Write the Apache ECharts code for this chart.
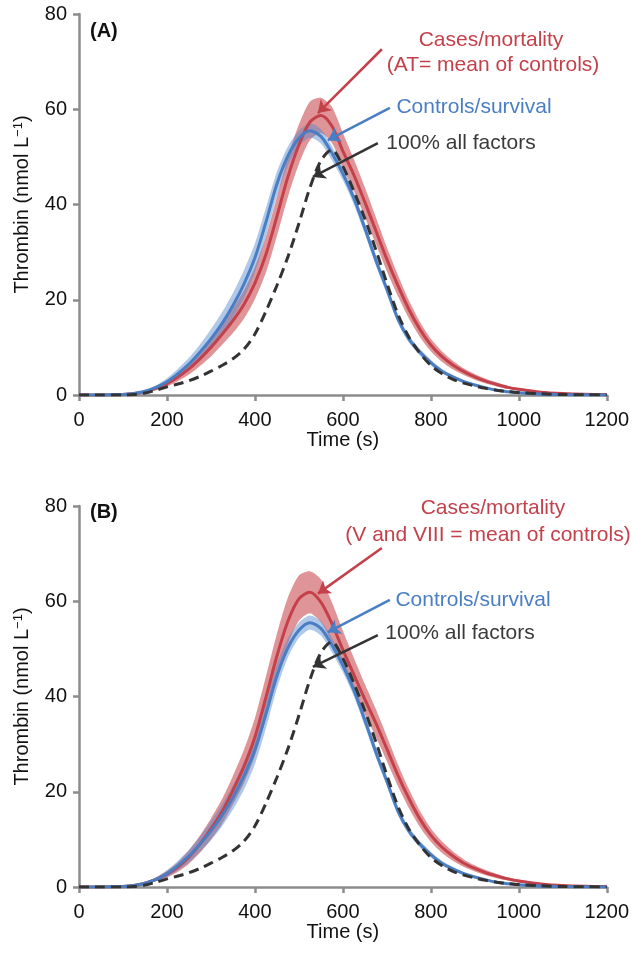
<!DOCTYPE html>
<html><head><meta charset="utf-8">
<script src="https://cdn.jsdelivr.net/npm/echarts@6/dist/echarts.min.js"></script>
<style>html,body{margin:0;padding:0;background:#fff}#c{width:632px;height:954px}</style>
</head><body><div id="c"></div>
<script>
// Time (s)
const time = [0,50,100,125,150,175,200,225,250,275,300,325,350,375,400,425,450,475,500,525,550,575,600,625,650,675,700,725,750,775,800,825,850,875,900,925,950,975,1000,1050,1100,1150,1200];
// Controls/survival (same in both panels)
const controlsMean = [0,0,0.1,0.3,0.8,1.6,2.8,4.5,6.5,9.0,11.8,15.0,18.8,23.3,28.8,36.3,44.3,50.2,53.9,55.5,54.3,50.8,46.5,41.3,35.0,28.3,22.2,16.0,11.8,9.0,6.8,5.0,3.8,2.8,2.1,1.5,1.0,0.7,0.45,0.2,0.08,0.03,0];
const controlsLow  = [0,0,0.1,0.2,0.6,1.2,2.1,3.5,5.2,7.4,9.8,12.7,16.2,20.4,25.8,33.3,41.7,48.2,52.3,54.0,52.8,49.3,45.1,40.0,33.8,27.2,21.2,15.1,11.0,8.3,6.2,4.5,3.4,2.45,1.8,1.25,0.8,0.55,0.35,0.15,0.08,0.03,0];
const controlsHigh = [0,0,0.1,0.4,1.0,2.0,3.5,5.5,7.8,10.6,13.8,17.3,21.4,26.2,31.8,39.3,46.9,52.2,55.5,57.0,55.8,52.3,47.9,42.6,36.2,29.4,23.2,16.9,12.6,9.7,7.4,5.5,4.2,3.15,2.4,1.75,1.2,0.85,0.55,0.25,0.08,0.03,0];
// 100% all factors
const allFactors = [0,0,0,0.1,0.4,1.0,1.7,2.3,3.0,3.9,5.0,6.2,7.6,9.6,12.8,17.6,23.0,29.0,36.0,43.5,49.2,51.5,48.0,42.8,37.0,30.5,23.5,17.0,12.2,8.8,6.2,4.5,3.3,2.5,1.9,1.4,1.0,0.7,0.5,0.25,0.1,0.05,0];
// Panel A: Cases/mortality (AT = mean of controls)
const casesAMean = [0,0,0.1,0.3,0.7,1.4,2.4,3.8,5.5,7.6,10.0,12.7,15.6,19.0,23.5,29.5,37.5,45.8,52.5,57.3,58.7,56.5,51.2,46.2,40.5,34.5,28.5,23.0,18.0,13.8,10.5,8.1,6.3,4.9,3.8,2.9,2.2,1.6,1.2,0.6,0.3,0.15,0.1];
const casesALow  = [0,0,0.1,0.2,0.5,1.0,1.8,2.9,4.3,6.1,8.1,10.5,13.0,16.0,20.1,25.7,33.4,41.6,48.5,53.5,55.0,52.9,47.7,42.9,37.4,31.7,26.0,20.8,16.1,12.2,9.2,7.0,5.4,4.2,3.2,2.4,1.8,1.3,0.95,0.45,0.2,0.1,0.05];
const casesAHigh = [0,0,0.1,0.4,0.9,1.8,3.0,4.7,6.7,9.1,11.9,14.9,18.2,22.0,26.9,33.3,41.6,50.0,56.8,61.6,62.4,60.5,55.0,49.5,43.6,37.3,31.0,25.2,19.9,15.4,11.8,9.2,7.2,5.6,4.4,3.4,2.6,1.9,1.45,0.75,0.4,0.2,0.15];
// Panel B: Cases/mortality (V and VIII = mean of controls)
const casesBMean = [0,0,0.1,0.3,0.8,1.6,2.7,4.2,6.3,9.0,12.2,15.8,20.3,25.3,31.5,39.8,48.5,55.8,60.5,61.9,59.8,55.3,49.8,44.6,39.4,34.4,29.0,23.5,18.6,14.3,10.9,8.4,6.5,5.0,3.9,3.0,2.3,1.7,1.25,0.65,0.3,0.15,0.1];
const casesBLow  = [0,0,0.1,0.2,0.6,1.2,2.0,3.2,4.9,7.2,10.0,13.2,17.3,21.8,27.5,35.4,43.8,51.0,55.9,57.5,55.6,51.3,46.0,41.1,36.2,31.5,26.4,21.2,16.6,12.6,9.5,7.2,5.5,4.2,3.25,2.45,1.85,1.35,0.95,0.45,0.2,0.1,0.05];
const casesBHigh = [0,0,0.1,0.4,1.0,2.0,3.4,5.2,7.7,10.8,14.4,18.4,23.3,28.8,35.5,44.2,53.2,60.8,65.4,66.3,64.6,59.8,53.8,48.1,42.6,37.3,31.6,25.8,20.6,16.0,12.3,9.6,7.5,5.8,4.55,3.55,2.75,2.05,1.55,0.85,0.4,0.2,0.15];
// Axis ticks
const xTicks = [0,200,400,600,800,1000,1200];
const yTicks = [0,20,40,60,80];

const RED = '#c4404a', RED_BAND = 'rgba(200,70,75,0.58)';
const BLUE = '#4a7ec4', BLUE_BAND = 'rgba(80,135,205,0.45)';
const DARK = '#333333';
const FONT = '"Liberation Sans", Arial, Helvetica, sans-serif';

function pairs(a){ return time.map((t,i)=>[t,a[i]]); }

function band(low, high, color, gi){
  return {type:'custom', xAxisIndex:gi, yAxisIndex:gi, silent:true, z:1, clip:true,
    data: time.map((t,i)=>[t, low[i], high[i]]),
    encode:{x:0, y:[1,2]},
    renderItem: function(params, api){
      if (params.dataIndex !== 0) return null;
      const pts = [];
      for (let i = 0; i < time.length; i++) pts.push(api.coord([time[i], high[i]]));
      for (let i = time.length - 1; i >= 0; i--) pts.push(api.coord([time[i], low[i]]));
      return {type:'polygon', shape:{points:pts, smooth:0.25}, style:{fill:color, stroke:null}};
    }
  };
}
function arrow(color, from, to){
  return {silent:true, symbol:['none','arrow'], symbolSize:12, animation:false,
    lineStyle:{color:color, width:2.5, type:'solid'}, label:{show:false}, emphasis:{disabled:true},
    data:[[{coord:from},{coord:to}]]};
}
function line(vals, color, gi, opts){
  return Object.assign({type:'line', xAxisIndex:gi, yAxisIndex:gi, data:pairs(vals), symbol:'none', smooth:0.3,
    lineStyle:{color:color, width:3}, silent:true, z:3}, opts||{});
}

const panels = [
  {top:14, casesMean:casesAMean, casesLow:casesALow, casesHigh:casesAHigh,
   redArrow:[[688.6,72.6],[543.2,59.2]], blueArrow:[[706.8,60.3],[565.9,53.5]], darkArrow:[[679.5,52.9],[531.8,45.8]]},
  {top:506, casesMean:casesBMean, casesLow:casesBLow, casesHigh:casesBHigh,
   redArrow:[[688.6,71.2],[543.2,61.6]], blueArrow:[[706.8,60.3],[565.9,53.5]], darkArrow:[[679.5,52.9],[531.8,46.2]]}
];

const grids = [], xAxes = [], yAxes = [], series = [];
panels.forEach((p, gi) => {
  grids.push({left:79, top:p.top, width:528, height:381, containLabel:false});
  xAxes.push({type:'value', gridIndex:gi, min:0, max:1200, interval:200,
    name:'Time (s)', nameLocation:'middle', nameGap:35,
    nameTextStyle:{fontSize:20, color:'#111', fontFamily:FONT},
    axisLine:{lineStyle:{color:'#8c8c8c', width:2.5}},
    axisTick:{show:true, length:6, lineStyle:{color:'#8c8c8c', width:2.5}},
    axisLabel:{fontSize:20, color:'#111', fontFamily:FONT, margin:15, formatter:v=>String(v)},
    splitLine:{show:false}});
  yAxes.push({type:'value', gridIndex:gi, min:0, max:80, interval:20,
    name:'{a|Thrombin (nmol L}{s|−1}{a|)}', nameLocation:'middle', nameGap:46,
    nameTextStyle:{fontSize:20, color:'#111', fontFamily:FONT,
      rich:{a:{fontSize:20, color:'#111', fontFamily:FONT}, s:{fontSize:13, color:'#111', fontFamily:FONT, verticalAlign:'top', padding:[0,0,8,0]}}},
    axisLine:{show:true, lineStyle:{color:'#8c8c8c', width:2.5}},
    axisTick:{show:true, length:6, lineStyle:{color:'#8c8c8c', width:2.5}},
    axisLabel:{fontSize:20, color:'#111', fontFamily:FONT, margin:12, formatter:v=>String(v)},
    splitLine:{show:false}});
  series.push(band(p.casesLow, p.casesHigh, RED_BAND, gi));
  series.push(band(controlsLow, controlsHigh, BLUE_BAND, gi));
  series.push(line(p.casesMean, RED, gi, {markLine:arrow(RED, p.redArrow[0], p.redArrow[1])}));
  series.push(line(controlsMean, BLUE, gi, {markLine:arrow(BLUE, p.blueArrow[0], p.blueArrow[1])}));
  series.push(line(allFactors, DARK, gi, {z:4, lineStyle:{color:DARK, width:3, type:[10,6]},
    markLine:arrow(DARK, p.darkArrow[0], p.darkArrow[1])}));
});

function txt(x, y, s, color){
  return {type:'text', x:x, y:y, silent:true, z:10,
    style:{text:s, fill:color, font:'21px ' + FONT, textAlign:'center', textVerticalAlign:'middle', align:'center', verticalAlign:'middle'}};
}
const graphics = [
  {type:'text', x:90, y:31, silent:true, style:{text:'(A)', fill:'#111', font:'bold 20px ' + FONT, textAlign:'left', textVerticalAlign:'middle', align:'left', verticalAlign:'middle'}},
  {type:'text', x:90, y:512, silent:true, style:{text:'(B)', fill:'#111', font:'bold 20px ' + FONT, textAlign:'left', textVerticalAlign:'middle', align:'left', verticalAlign:'middle'}},
  txt(491, 40, 'Cases/mortality', RED),
  txt(493, 65, '(AT= mean of controls)', RED),
  txt(474, 107, 'Controls/survival', BLUE),
  txt(461, 143, '100% all factors', '#3a3a3a'),
  txt(493, 508, 'Cases/mortality', RED),
  txt(488, 535, '(V and VIII = mean of controls)', RED),
  txt(473, 600, 'Controls/survival', BLUE),
  txt(460, 633, '100% all factors', '#3a3a3a')
];

const chart = echarts.init(document.getElementById('c'), null, {renderer:'canvas'});
chart.setOption({
  animation:false,
  backgroundColor:'#ffffff',
  textStyle:{fontFamily:FONT},
  grid:grids, xAxis:xAxes, yAxis:yAxes, series:series, graphic:graphics
});
</script></body></html>
